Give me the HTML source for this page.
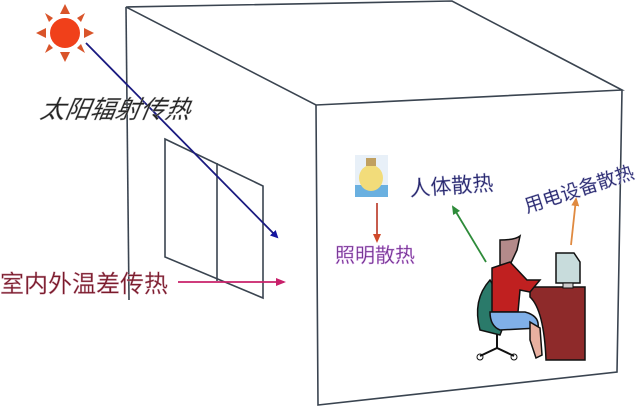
<!DOCTYPE html>
<html><head><meta charset="utf-8"><style>
body{margin:0;background:#fff;}
svg{display:block}
text{font-family:"Liberation Sans","Noto Sans CJK SC",sans-serif;}
</style></head><body>
<svg width="640" height="411" viewBox="0 0 640 411" xmlns="http://www.w3.org/2000/svg">
<defs>
<marker id="mb" markerWidth="8" markerHeight="8" refX="6" refY="4" orient="auto" markerUnits="userSpaceOnUse"><path d="M0,0 L8,4 L0,8 z" fill="#1414a0"/></marker>
<marker id="mp" markerWidth="10" markerHeight="8" refX="8" refY="4" orient="auto" markerUnits="userSpaceOnUse"><path d="M0,0 L10,4 L0,8 z" fill="#c8206a"/></marker>
<marker id="mr" markerWidth="9" markerHeight="8" refX="7" refY="4" orient="auto" markerUnits="userSpaceOnUse"><path d="M0,0 L9,4 L0,8 z" fill="#d04a2a"/></marker>
<marker id="mg" markerWidth="9" markerHeight="8" refX="7" refY="4" orient="auto" markerUnits="userSpaceOnUse"><path d="M0,0 L9,4 L0,8 z" fill="#2e8b3a"/></marker>
<marker id="mo" markerWidth="9" markerHeight="8" refX="7" refY="4" orient="auto" markerUnits="userSpaceOnUse"><path d="M0,0 L9,4 L0,8 z" fill="#e08a40"/></marker>
</defs>
<g stroke="#3a4450" stroke-width="1.6" fill="none">
<path d="M126,7 L452,1 L622,90 L316,105 Z"/>
<path d="M126,7 L129,300"/>
<path d="M316,105 L318,405 L617,372 L622,90"/>
<path d="M165,139 L263,186 L263,298 L165,257 Z"/>
<path d="M217,163 L217,281"/>
</g>
<g fill="#d9542a">
<polygon points="65,4 60,14 70,14"/><polygon points="65,62 60,52 70,52"/>
<polygon points="36,33 46,28 46,38"/><polygon points="94,33 84,28 84,38"/>
<polygon points="45,13 53,18 49,22"/><polygon points="85,13 77,18 81,22"/>
<polygon points="45,53 53,48 49,44"/><polygon points="85,53 77,48 81,44"/>
</g>
<circle cx="65" cy="33" r="15" fill="#f0401a"/>
<line x1="86" y1="43" x2="277" y2="237" stroke="#1a1a80" stroke-width="1.8" marker-end="url(#mb)"/>
<text x="40" y="118" font-size="25" font-style="italic" fill="#222" stroke="#999" stroke-width="0.4" transform="skewX(-10) translate(20,0)">太阳辐射传热</text>
<text x="0" y="292" font-size="24" fill="#7a1a2a" stroke="#d0a0b0" stroke-width="0.4">室内外温差传热</text>
<line x1="178" y1="282" x2="284" y2="282" stroke="#c8206a" stroke-width="1.8" marker-end="url(#mp)"/>
<rect x="355" y="155" width="33" height="42" fill="#e8f0f8"/>
<rect x="355" y="185" width="33" height="12" fill="#6ab0e0"/>
<ellipse cx="371" cy="178" rx="12" ry="13" fill="#f2dc7a"/>
<rect x="366" y="158" width="10" height="8" fill="#c0a060"/>
<line x1="377" y1="203" x2="377" y2="241" stroke="#c04a3a" stroke-width="1.8" marker-end="url(#mr)"/>
<text x="335" y="262" font-size="20" fill="#6a2a8a" stroke="#d8a8e8" stroke-width="0.5">照明散热</text>
<text x="410" y="196" font-size="21" fill="#23236a" stroke="#a0a0c8" stroke-width="0.4" transform="rotate(-4 410 196)">人体散热</text>
<line x1="486" y1="262" x2="453" y2="207" stroke="#2e8b3a" stroke-width="1.8" marker-end="url(#mg)"/>
<text x="527" y="213" font-size="19" fill="#23236a" stroke="#a0a0c8" stroke-width="0.4" transform="rotate(-18 527 213)">用电设备散热</text>
<line x1="571" y1="245" x2="576" y2="199" stroke="#e08a40" stroke-width="1.8" marker-end="url(#mo)"/>
<path d="M530,287 L585,287 L585,360 L546,360 Q544,310 530,297 Z" fill="#8e2a2a" stroke="#111" stroke-width="1.5"/>
<path d="M556,253 L574,253 L580,262 L580,283 L556,283 Z" fill="#c8dcdc" stroke="#111" stroke-width="1.5"/>
<rect x="563" y="283" width="10" height="5" fill="#ccc" stroke="#111"/>
<path d="M490,280 Q472,300 480,330 L500,335 L505,322 Q490,310 493,285 Z" fill="#2a7a6a" stroke="#111" stroke-width="1.5"/>
<path d="M497,334 L497,348 M480,356 L497,348 L514,356" stroke="#111" stroke-width="2" fill="none"/>
<circle cx="480" cy="357" r="3" fill="none" stroke="#111"/><circle cx="514" cy="357" r="3" fill="none" stroke="#111"/>
<path d="M500,240 Q515,240 520,236 L517,250 L510,265 L500,265 Z" fill="#b48a8a" stroke="#111" stroke-width="1.5"/>
<path d="M492,268 L510,262 L527,280 L540,280 L530,292 L520,290 L518,312 L492,312 Z" fill="#c02020" stroke="#111" stroke-width="1.5"/>
<path d="M490,312 L525,312 Q540,316 538,328 L500,330 Q490,326 490,312 Z" fill="#80b0e8" stroke="#111" stroke-width="1.5"/>
<path d="M530,322 L540,328 L542,355 L536,358 L530,340 Z" fill="#e8b0a0" stroke="#111" stroke-width="1.5"/>
</svg>
</body></html>
